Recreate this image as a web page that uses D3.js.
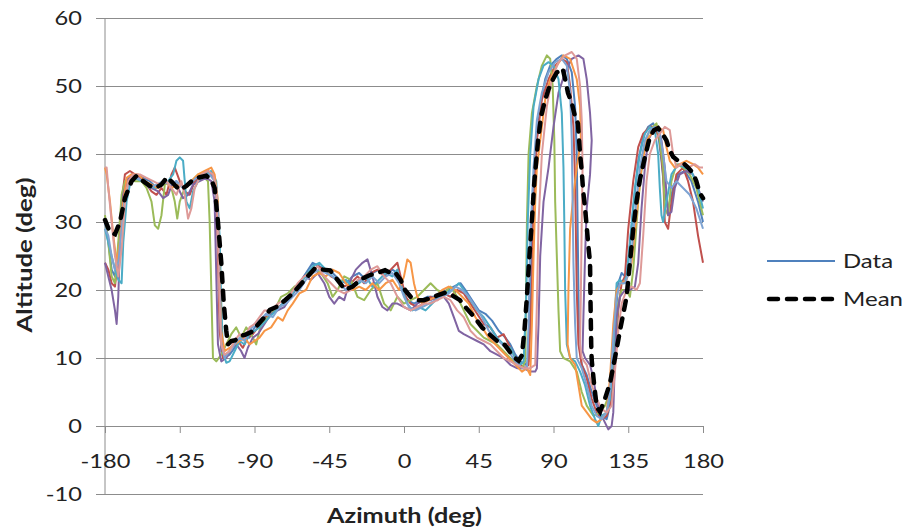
<!DOCTYPE html>
<html>
<head>
<meta charset="utf-8">
<script src="https://cdn.jsdelivr.net/npm/d3@7"></script>
<style>
  body { margin: 0; background: #fff; }
  text { font-family: Lato, 'Open Sans', sans-serif; fill: #222; }
</style>
</head>
<body>
<div id="chart"></div>
<script>
// [azimuth, altitude] pairs
let seriesBlue = [[-180,30],[-178,27],[-176,23],[-174,22],[-172,26],[-170,32],[-168,35],[-165,36.5],[-161,37],[-157,36.5],[-153,36],[-149,35],[-145,36],[-141,35.5],[-137,36],[-133,35],[-129,35.5],[-125,36],[-121,37],[-117,37],[-114,36.5],[-112,31],[-111,18],[-110,11],[-108,10],[-105,10.5],[-102,11.5],[-99,12.5],[-96,13.5],[-93,13],[-90,14.5],[-87,15],[-83,16],[-79,17],[-75,17.5],[-71,18.5],[-67,20],[-63,21],[-59,22.5],[-55,24],[-51,23.5],[-47,23],[-43,22.5],[-39,21.5],[-35,21],[-31,22],[-27,22.5],[-23,21.5],[-19,22.5],[-15,23],[-11,22],[-7,23],[-4,22.5],[-1,20],[2,18.5],[6,18],[10,18.5],[14,19],[18,19],[22,19.5],[26,20],[30,20.5],[34,21],[37,20],[41,18.5],[45,17],[49,16.5],[53,15.5],[57,14],[61,13],[64,12],[67,10.5],[70,9.5],[73,9],[75,9.5],[76,18],[77,30],[79,40],[82,47],[85,51],[88,53],[92,54],[95,54.5],[98,54],[101,52],[103,47],[104,40],[104.5,30],[105,20],[105.5,12],[107,9],[110,7.5],[113,5],[116,3],[119,1.5],[122,1],[124,3],[126,10],[128,18],[129,21],[131,22.5],[133,22],[135,24],[138,32],[141,39],[144,42.5],[147,44],[150,44.5],[153,43],[155,39],[157,34],[159,32],[162,35],[165,37],[169,37.5],[173,36],[177,33],[180,30]]

let seriesRed = [[-180,24],[-178,23],[-176,21],[-174,20.5],[-172,25],[-170,33],[-168,37],[-165,37.5],[-162,37],[-158,36.5],[-155,35.5],[-152,34.5],[-149,34],[-146,35],[-143,34],[-140,37],[-138,38],[-135,36],[-132,34.5],[-129,34],[-126,36],[-122,37],[-118,37.5],[-115,37],[-113,35],[-112,25],[-111,14],[-109,10],[-106,10.5],[-103,12],[-100,12.5],[-97,11.5],[-94,13],[-91,13.5],[-88,14.5],[-84,16],[-80,16.5],[-76,17.5],[-72,18],[-68,19.5],[-64,20.5],[-60,22],[-56,22.5],[-52,23.5],[-48,23],[-44,22],[-40,21.5],[-36,20.5],[-32,21],[-28,22],[-24,21],[-20,22.5],[-16,23],[-12,22],[-8,23],[-4,24],[-2,22],[1,19],[4,18],[8,17.5],[12,18],[16,19],[20,18.5],[24,19.5],[28,19],[32,20],[36,19.5],[40,18],[44,16.5],[48,15],[52,14.5],[56,13],[60,13.5],[63,12],[66,10.5],[70,9],[73,8.5],[75,9],[77,20],[78,32],[80,42],[83,48],[87,51],[91,53],[95,54],[98,53.5],[100,50],[102,44],[103,36],[103.5,28],[104,20],[105,12],[107,9],[110,7],[113,4],[116,2],[119,1],[122,1.5],[125,4],[127,10],[129,17],[131,21],[133,22],[135,29],[138,36],[141,41],[144,43],[148,44],[151,44],[154,42],[156,37],[157,30],[159,29],[161,33],[164,37],[168,38],[171,36],[174,33],[177,28],[180,24]]

let seriesGreen = [[-180,31],[-178,27],[-176,22],[-174,21],[-172,27],[-170,34],[-168,36],[-165,36.5],[-162,36],[-158,36],[-155,35],[-152,33],[-150,29.5],[-148,29],[-146,31],[-144,35.5],[-141,36],[-138,33],[-136.5,30.5],[-135,33],[-132,35],[-128,36],[-124,37],[-120,36.5],[-118,36],[-117,30],[-116,20],[-115,10],[-113,9.5],[-110,10.5],[-107,12],[-104,13.5],[-101,14.5],[-98,13],[-95,14.5],[-92,13.5],[-89,12],[-86,15],[-82,16],[-78,17],[-74,19],[-70,19.5],[-66,20.5],[-62,21],[-58,22.5],[-54,23],[-50,22.5],[-46,21],[-43,19],[-40,20],[-36,22],[-32,21.5],[-28,19],[-24,18.5],[-20,20],[-16,21],[-12,18],[-8,17],[-4,19],[0,18],[4,18.5],[8,19],[12,20],[16,21],[20,20],[24,19.5],[28,20.5],[32,19],[36,17],[40,15],[44,14],[48,13],[52,12.5],[56,12],[60,11],[64,10],[68,9],[71,8.5],[73,9.5],[74,30],[75,40],[77,46],[80,50],[83,53],[86,54.5],[88,54],[89.5,50],[90.5,42],[91,33],[92,25],[93,17],[94,11],[96,10],[100,9.5],[104,8],[107,5],[110,3],[114,1.5],[118,2],[121,3],[124,5],[127,12],[129,18],[131,20],[134,20],[136,19],[138,23],[141,33],[144,40],[147,43],[150,44],[152,44.5],[154,42],[156,38],[157,32],[159,31],[161,36],[164,38.5],[168,38],[172,37],[176,35],[180,31]]

let seriesPurple = [[-180,24],[-178,22],[-176,20],[-174,17],[-173,15],[-172,19],[-171,27],[-169,34],[-167,36],[-164,37],[-160,36.5],[-156,36],[-152,35],[-148,34.5],[-145,33.5],[-142,34],[-139,36],[-136,35],[-133,33.5],[-130,34],[-127,35.5],[-123,36],[-119,36.5],[-116,36],[-114,33],[-113,22],[-112,12],[-110,9.5],[-107,10],[-104,11.5],[-101,12],[-98,11],[-96,10],[-94,11.5],[-91,13],[-88,13.5],[-84,15],[-80,16.5],[-76,17],[-72,17.5],[-68,19],[-64,20.5],[-60,22],[-56,21.5],[-52,22.5],[-48,21],[-45,19],[-42,18],[-39,19],[-36,18.5],[-33,21],[-29,23],[-25,24],[-22,24.5],[-19,22],[-16,19],[-13,17.5],[-10,17],[-7,18],[-4,18],[0,17.5],[4,17],[8,18],[12,18.5],[16,18.5],[20,19],[24,19],[27,18],[30,16],[33,14],[36,13.5],[40,13],[44,12.5],[48,12],[52,11],[56,10.5],[60,10],[64,9],[68,8.5],[72,8.5],[76,8],[79,8],[80,8.5],[81,15],[82,25],[84,33],[87,38],[90,44],[93,49],[97,52],[101,54],[105,54.5],[108,54],[110,51],[112,46],[113,42],[112,37],[110,32],[109,25],[108,16],[107.5,11],[109,10],[112,9],[114,7],[116,4],[118,2],[121,0.5],[123,-0.5],[125,0],[126,2],[127,10],[128,16],[130,19],[133,20],[136,20],[139,20.5],[141,24],[143,32],[145,38],[147,42],[150,43.5],[153,44],[155,42],[157,38],[158,34],[159,31],[161,31.5],[163,35],[166,37],[170,37.5],[174,37],[177,35],[180,33]]

let seriesAqua = [[-180,29],[-178,27],[-176,25],[-174,23],[-172,21.5],[-170,21],[-169,27],[-167,33],[-165,35.5],[-162,36.5],[-158,36],[-154,35.5],[-150,35],[-146,35.5],[-142,36],[-139,37],[-137,39],[-135,39.5],[-133,39],[-132,36],[-131,33],[-129,32],[-127,34.5],[-124,36],[-120,37],[-116,37.5],[-113,36],[-111,28],[-110,18],[-109,11],[-107,9.3],[-105,9.5],[-102,11],[-99,12.5],[-96,12],[-93,13.5],[-90,14],[-87,14.5],[-83,15.5],[-79,16.5],[-75,17.5],[-71,18.5],[-67,19.5],[-63,21],[-59,22],[-55,23.5],[-51,24],[-47,23],[-43,22],[-39,21],[-35,21.5],[-31,20.5],[-27,21],[-23,22],[-19,20.5],[-15,21.5],[-11,22.5],[-7,22],[-4,23],[-1,20],[2,18],[5,17],[9,17.5],[13,17],[17,18],[21,19],[25,19.5],[29,20],[33,21],[36,20],[40,18.5],[44,17],[48,16],[52,14.5],[56,13],[60,12],[64,11.5],[67,10],[70,9],[72,9.5],[73.5,18],[74.5,30],[76,40],[78,47],[81,51],[84,53],[87,53.5],[90,53],[93,51],[95,46],[96,38],[96.5,30],[97,20],[98,12],[100,10],[103,9.5],[106,8],[109,6],[112,3],[115,1],[117,0],[119,1.5],[122,2],[124,4],[126,11],[127,17],[128,21],[130,21.5],[132,21],[134,22],[136,27],[139,35],[142,40],[145,43],[148,44],[151,43.5],[153,40],[154,35],[155,31],[156,30],[158,33],[161,37],[165,38.5],[169,38],[173,37.5],[177,35],[180,32]]

let seriesOrange = [[-180,38],[-179,37],[-177,33],[-175,28],[-173,24],[-171,27],[-169,33],[-167,36.5],[-164,37],[-160,37],[-156,36],[-152,35.5],[-148,35],[-144,36],[-140,35],[-136,35.5],[-132,35],[-128,36],[-124,37],[-120,37.5],[-116,38],[-114,37],[-112,33],[-111,22],[-110,14],[-108,11],[-105,11.5],[-102,12],[-99,12.5],[-96,13],[-93,12],[-90,12.5],[-87,13],[-84,14],[-80,14.5],[-76,16],[-73,15.5],[-70,17],[-67,18],[-63,19.5],[-59,20],[-55,22],[-51,22.5],[-47,22],[-43,23],[-39,22.5],[-35,21],[-31,20],[-27,20.5],[-23,20],[-19,21],[-15,20],[-11,21],[-7,21.5],[-3,20],[0,22],[2,24.5],[4,24],[6,21],[8,19],[11,18],[15,18.5],[19,19],[23,20],[27,20.5],[31,20],[35,19],[39,18],[43,16],[47,14.5],[51,13],[55,12],[59,11],[63,10],[67,9],[71,8],[74,8.5],[76,7.5],[77,15],[78,25],[79,33],[80,38],[82,42],[85,48],[88,51],[92,53],[96,54.5],[100,54],[104,51],[106,47],[106.5,42],[104,38],[102,34],[100,29],[99,20],[98.5,12],[100,10],[103,9],[105,6],[107,3],[110,2],[113,1],[116,0.5],[119,1],[122,2],[124,7],[126,15],[128,20],[131,21],[134,21.5],[137,24],[140,31],[143,38],[146,42],[149,43],[152,44],[156,43.5],[158,41],[160,39],[163,38],[166,38.5],[170,39],[174,38.5],[177,38],[180,37]]

let seriesLightBlue = [[-180,29],[-178,28],[-176,25],[-174,23],[-172,24],[-170,29],[-168,34],[-165,36],[-161,36.5],[-157,36],[-153,35],[-149,35.5],[-145,36],[-141,35.5],[-137,36],[-133,35],[-129,35.5],[-125,36.5],[-121,37],[-117,37],[-114,36],[-112,32],[-111,20],[-110,12],[-108,10],[-105,11],[-102,12],[-99,13],[-96,12.5],[-93,14],[-90,15],[-87,15.5],[-83,16.5],[-79,16],[-75,17.5],[-71,18],[-67,19],[-63,20],[-59,21.5],[-55,22.5],[-51,23],[-47,22.5],[-43,22],[-39,21],[-35,20],[-31,20.5],[-27,21.5],[-23,21],[-19,22],[-15,21],[-11,22],[-7,22.5],[-3,21],[0,19],[3,17.5],[7,17],[11,17.5],[15,18],[19,18.5],[23,19],[27,19.5],[31,20.5],[35,20],[39,19],[43,17.5],[47,16],[51,14],[55,13],[59,12],[63,11],[67,9.5],[71,8.5],[74,8.5],[75,15],[76,28],[78,38],[80,45],[83,49],[87,52],[91,53.5],[95,54],[98,53],[100,49],[101,42],[101.5,33],[102,24],[103,15],[104,10],[107,8.5],[110,6],[113,3],[116,1.5],[119,1],[122,2],[124,5],[126,13],[128,19],[130,21],[133,21],[136,23],[139,31],[142,38],[145,42],[148,43.5],[151,44],[154,43],[156,40],[158,36],[161,35],[164,36],[168,35],[172,34],[176,32],[180,29]]

let seriesPink = [[-180,38],[-179,38],[-178,35],[-176,30],[-174,25],[-172,22],[-170,26],[-168,33],[-166,36],[-163,37],[-159,37],[-155,36.5],[-151,36],[-147,35.5],[-143,36],[-140,35],[-137,34],[-134,36],[-132,34],[-130,30.5],[-128,32],[-126,35],[-122,37],[-118,37.5],[-115,37],[-113,35],[-112,28],[-111,18],[-110,12],[-108,10.5],[-105,11],[-102,12.5],[-99,13.5],[-96,13],[-93,14.5],[-90,15],[-87,16],[-84,17],[-80,17],[-76,18],[-72,18.5],[-68,19.5],[-64,21],[-60,22],[-56,22.5],[-52,23.5],[-48,22],[-44,21],[-40,20],[-36,19.5],[-32,20],[-28,21.5],[-24,22],[-20,23],[-16,23.5],[-12,22],[-8,21],[-4,19],[0,17.5],[4,17],[8,17.5],[12,18],[16,18],[20,18.5],[24,19],[28,18.5],[32,17],[36,16],[40,14],[44,13],[48,12.5],[52,12],[56,11],[60,10],[64,9.5],[68,9],[72,8.5],[76,8.5],[79,9],[80,18],[81,30],[83,40],[86,47],[89,51],[93,53.5],[97,54.5],[101,55],[104,54],[106,50],[107,45],[107.5,38],[107,30],[106.5,20],[106,12],[107,10],[110,9],[113,6],[116,4],[119,2.5],[122,2],[125,3],[127,8],[129,14],[131,18],[134,20],[137,20.5],[140,20],[142,21],[144,28],[146,36],[148,40],[151,42],[154,43],[157,44],[160,43.5],[162,40],[164,38],[167,38.5],[171,38],[175,38.5],[178,38],[180,38]]

let meanValues = [[-180,30.3],[-177,28.5],[-174,28.2],[-171,30],[-168,33.5],[-164,36],[-161,36.8],[-157,36],[-153,35.3],[-150,35],[-146,35.5],[-142.7,36.6],[-139,35.7],[-135,34.7],[-131,35.3],[-128,36],[-124,36.5],[-119,36.8],[-116,36.2],[-114,35],[-112,30],[-110,24],[-108.5,18],[-107,14],[-106,12],[-104,12.5],[-101.7,12.6],[-98,13.3],[-95.7,13.4],[-92,13.8],[-88,14.9],[-84,16],[-80.7,17.1],[-76,17.6],[-71.6,18.5],[-67,19.5],[-62.6,20.7],[-58,22],[-53.6,23.2],[-49,23],[-44.5,22.9],[-40,21.5],[-35.5,20],[-31,20.5],[-27.7,21.2],[-24,21.8],[-20.5,22.2],[-16,22.5],[-11.4,22.9],[-8,22.5],[-5.4,22.6],[-2,21.5],[0.6,20],[4,19],[8.4,18.5],[12,18.5],[15.7,18.8],[20,19.2],[24.7,19.6],[29,19.2],[33.7,18.5],[38,17.2],[42.7,15.9],[47,14.5],[51.8,13.4],[56,12.5],[60.8,11.9],[64,10.8],[66.8,10],[69,9.6],[71,10.4],[72.5,14],[74,19],[75.5,25],[77,30.3],[78.5,36],[80.7,42],[82.5,45.5],[84.9,47.9],[87,49.5],[89.7,51],[92,52],[94,52.3],[95.5,52.6],[97,51],[98.7,49],[101,47.5],[103,45.5],[104.7,44.5],[106,40],[107,37.5],[107.8,34.7],[109,32],[110,29.3],[111,26.5],[112,24],[112.3,18],[112.7,12],[113,9.7],[114.5,6],[116,2.8],[118,2.1],[121,4],[124,6.3],[127,10],[130,14],[134,19],[136,24],[138,29],[140,33],[142,36.2],[145,39.5],[148,42.5],[150.5,43.5],[153,43.8],[155.5,43],[158,42],[160,40.5],[162,39.6],[165,39],[168,38.7],[171,38],[174,37.2],[176,36],[178,34.3],[180,33.5]]

let dataSeries = [seriesBlue, seriesRed, seriesGreen, seriesPurple, seriesAqua, seriesOrange, seriesLightBlue, seriesPink]
let seriesColors = ['#4F81BD', '#C0504D', '#9BBB59', '#8064A2', '#4BACC6', '#F79646', '#7EA3D2', '#DE9A98']

let xTicks = [-180, -135, -90, -45, 0, 45, 90, 135, 180]
let yTicks = [-10, 0, 10, 20, 30, 40, 50, 60]
let legendLabels = ['Data', 'Mean']
let legendWidths = [50, 60]

let width = 905
let height = 531
let stretch = 'scale(1.18,1)'  // the picture's text is a bit wider than Lato

let svg = d3.select('#chart')
  .append('svg')
    .attr('width', width)
    .attr('height', height)

let x = d3.scaleLinear().domain([-180, 180]).range([105, 703])
let y = d3.scaleLinear().domain([-10, 60]).range([494, 18])

// horizontal gridlines + y labels
let yAxis = d3.axisLeft(y).tickValues(yTicks).tickSize(-(703 - 96)).tickPadding(12).tickFormat(d => String(d))
svg.append('g')
  .attr('transform', 'translate(96,0)')
  .call(yAxis)
  .call(g => g.select('.domain').remove())
  .call(g => g.selectAll('line').attr('stroke', '#8c8c8c'))
  .call(g => g.selectAll('text')
    .style('font-family', 'Lato, sans-serif')
    .style('font-size', '20px')
    .attr('fill', '#222')
    .attr('transform', stretch))

// vertical axis line
svg.append('line')
  .attr('x1', x(-180)).attr('x2', x(-180))
  .attr('y1', y(60)).attr('y2', y(-10))
  .attr('stroke', '#8c8c8c')

// horizontal axis at altitude 0 with ticks
let xAxis = d3.axisBottom(x).tickValues(xTicks).tickSize(7).tickPadding(21).tickSizeOuter(0).tickFormat(d => String(d))
svg.append('g')
  .attr('transform', `translate(0,${y(0)})`)
  .call(xAxis)
  .call(g => g.select('.domain').attr('stroke', '#8c8c8c'))
  .call(g => g.selectAll('line').attr('stroke', '#8c8c8c'))
  .call(g => g.selectAll('text')
    .style('font-family', 'Lato, sans-serif')
    .style('font-size', '20px')
    .attr('fill', '#222')
    .attr('transform', stretch))

let line = d3.line().x(d => x(d[0])).y(d => y(d[1]))

svg.append('g')
  .selectAll('path')
  .data(dataSeries)
  .enter()
  .append('path')
    .attr('d', line)
    .attr('fill', 'none')
    .attr('stroke', (d, i) => seriesColors[i])
    .attr('stroke-width', 2)
    .attr('stroke-linejoin', 'round')

svg.append('path')
  .datum(meanValues)
  .attr('d', line)
  .attr('fill', 'none')
  .attr('stroke', '#000')
  .attr('stroke-width', 4.5)
  .attr('stroke-linecap', 'round')
  .attr('stroke-dasharray', '9,9')

// axis titles
svg.append('text')
  .attr('transform', 'translate(32,255) rotate(-90)')
  .attr('text-anchor', 'middle')
  .attr('textLength', 155)
  .attr('lengthAdjust', 'spacingAndGlyphs')
  .style('font-size', '20px')
  .style('font-weight', 'bold')
  .text('Altitude (deg)')

svg.append('text')
  .attr('x', 404.5)
  .attr('y', 523)
  .attr('text-anchor', 'middle')
  .attr('textLength', 155)
  .attr('lengthAdjust', 'spacingAndGlyphs')
  .style('font-size', '20px')
  .style('font-weight', 'bold')
  .text('Azimuth (deg)')

// legend
let legend = svg.append('g')
legend.append('line')
  .attr('x1', 767).attr('x2', 835).attr('y1', 261).attr('y2', 261)
  .attr('stroke', '#4F81BD').attr('stroke-width', 2)
legend.append('line')
  .attr('x1', 769).attr('x2', 835).attr('y1', 299).attr('y2', 299)
  .attr('stroke', '#000').attr('stroke-width', 4.5)
  .attr('stroke-linecap', 'round').attr('stroke-dasharray', '9,9')
legend.selectAll('text.lg')
  .data(legendLabels)
  .enter()
  .append('text')
    .attr('class', 'lg')
    .attr('x', 843)
    .attr('y', (d, i) => 261 + i * 38)
    .attr('dy', '0.35em')
    .attr('textLength', (d, i) => legendWidths[i])
    .attr('lengthAdjust', 'spacingAndGlyphs')
    .style('font-size', '20px')
    .text(d => d)
</script>
</body>
</html>
